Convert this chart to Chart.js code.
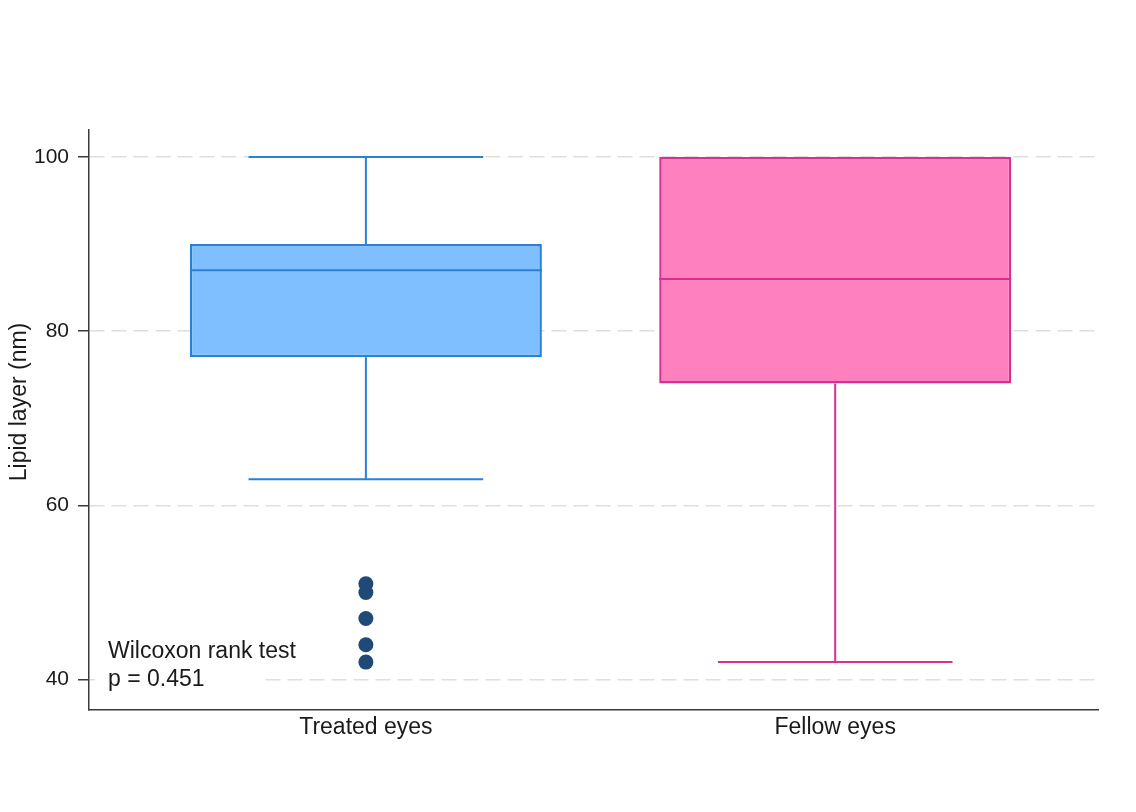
<!DOCTYPE html>
<html>
<head>
<meta charset="utf-8">
<script src="https://cdn.jsdelivr.net/npm/chart.js@4.4.1/dist/chart.umd.min.js"></script>
<style>
    html, body { margin: 0; padding: 0; background: #ffffff; }
    #wrap { width: 1136px; height: 812px; }
</style>
</head>
<body>
<div id="wrap"><canvas id="box-chart" width="1136" height="812"></canvas></div>
<script>
// --- DATA ---
const groups = ['Treated eyes', 'Fellow eyes'];
const positions = [1, 2];
const lowerWhisker = [63, 42];
const q1 = [77, 74];
const median = [87, 86];
const q3 = [90, 100];
const upperWhisker = [100, 100];
const treatedOutliers = [51, 50, 47, 44, 42];
const yTicks = [40, 60, 80, 100];
const yTitle = 'Lipid layer (nm)';
const testLines = ['Wilcoxon rank test', 'p = 0.451'];

const FONT = "'Liberation Sans', Arial, sans-serif";
const THEME = {
    fills: ['#80bfff', '#ff80bf'],
    lines: ['#2a80d6', '#d8308f'],
    outlier: '#1f4a78',
    grid: '#dedede',
    axis: '#3a3a3a',
    text: '#1a1a1a'
};

// whiskers, caps, medians, axis title and the test note
const boxParts = {
    id: 'boxParts',
    afterDatasetsDraw(chart) {
        const { ctx, chartArea, scales: { x, y } } = chart;
        const bars = chart.getDatasetMeta(0).data;
        ctx.save();
        ctx.lineWidth = 2;
        positions.forEach((p, i) => {
            const cx = x.getPixelForValue(p);
            const half = bars[i].width / 2;
            const cap = bars[i].width / 3;
            ctx.strokeStyle = THEME.lines[i];
            ctx.beginPath();
            if (upperWhisker[i] > q3[i]) {
                ctx.moveTo(cx, y.getPixelForValue(q3[i]));
                ctx.lineTo(cx, y.getPixelForValue(upperWhisker[i]));
                ctx.moveTo(cx - cap, y.getPixelForValue(upperWhisker[i]));
                ctx.lineTo(cx + cap, y.getPixelForValue(upperWhisker[i]));
            }
            ctx.moveTo(cx, y.getPixelForValue(q1[i]));
            ctx.lineTo(cx, y.getPixelForValue(lowerWhisker[i]));
            ctx.moveTo(cx - cap, y.getPixelForValue(lowerWhisker[i]));
            ctx.lineTo(cx + cap, y.getPixelForValue(lowerWhisker[i]));
            ctx.moveTo(cx - half, y.getPixelForValue(median[i]));
            ctx.lineTo(cx + half, y.getPixelForValue(median[i]));
            ctx.stroke();
        });

        // note box sits over the 40 grid line
        const baseY = y.getPixelForValue(yTicks[0]);
        ctx.fillStyle = '#ffffff';
        ctx.fillRect(chartArea.left + 6, baseY - 44, 167, 62);
        ctx.font = `23px ${FONT}`;
        ctx.fillStyle = THEME.text;
        ctx.textBaseline = 'middle';
        ctx.textAlign = 'left';
        testLines.forEach((t, i) => {
            ctx.fillText(t, chartArea.left + 19, baseY - 28 + i * 28);
        });

        // y axis title, a little above centre as in the source
        ctx.translate(20, (chartArea.top + chartArea.bottom) / 2 - 18);
        ctx.rotate(-Math.PI / 2);
        ctx.textAlign = 'center';
        ctx.fillText(yTitle, 0, 0);
        ctx.restore();
    }
};

const ctx = document.getElementById('box-chart').getContext('2d');
new Chart(ctx, {
    type: 'bar',
    data: {
        datasets: [{
            type: 'bar',
            label: 'IQR',
            data: positions.map((p, i) => ({ x: p, y: [q1[i], q3[i]] })),
            backgroundColor: THEME.fills,
            borderColor: THEME.lines,
            borderWidth: 2.5,
            borderSkipped: false,
            categoryPercentage: 1,
            barPercentage: 0.75
        }, {
            type: 'scatter',
            label: 'Outliers',
            data: treatedOutliers.map(v => ({ x: positions[0], y: v })),
            backgroundColor: THEME.outlier,
            borderColor: THEME.outlier,
            pointRadius: 7.5,
            borderWidth: 0
        }]
    },
    options: {
        responsive: false,
        animation: false,
        layout: { padding: { left: 0, top: 130, right: 38, bottom: 0 } },
        plugins: {
            legend: { display: false },
            tooltip: { enabled: false }
        },
        scales: {
            x: {
                type: 'linear',
                min: 0.41,
                max: 2.56,
                offset: false,
                afterBuildTicks: scale => { scale.ticks = positions.map(v => ({ value: v })); },
                afterFit: scale => { scale.height = 102; },
                ticks: {
                    callback: (v) => groups[positions.indexOf(v)] || '',
                    color: THEME.text,
                    font: { family: FONT, size: 23 },
                    padding: 4,
                    maxRotation: 0
                },
                grid: { display: false, drawTicks: false },
                border: { display: true, color: THEME.axis, width: 1.5 }
            },
            y: {
                min: 36.5,
                max: 103.1,
                afterBuildTicks: scale => { scale.ticks = yTicks.map(v => ({ value: v })); },
                afterFit: scale => { scale.width = 89; },
                ticks: {
                    color: THEME.text,
                    font: { family: FONT, size: 21 },
                    padding: 9
                },
                grid: {
                    color: THEME.grid,
                    lineWidth: 1.5,
                    tickLength: 11,
                    tickColor: THEME.axis,
                    tickWidth: 1.5,
                    tickBorderDash: []
                },
                border: { display: true, color: THEME.axis, width: 1.5, dash: [15, 7] }
            }
        }
    },
    plugins: [boxParts]
});
</script>
</body>
</html>
